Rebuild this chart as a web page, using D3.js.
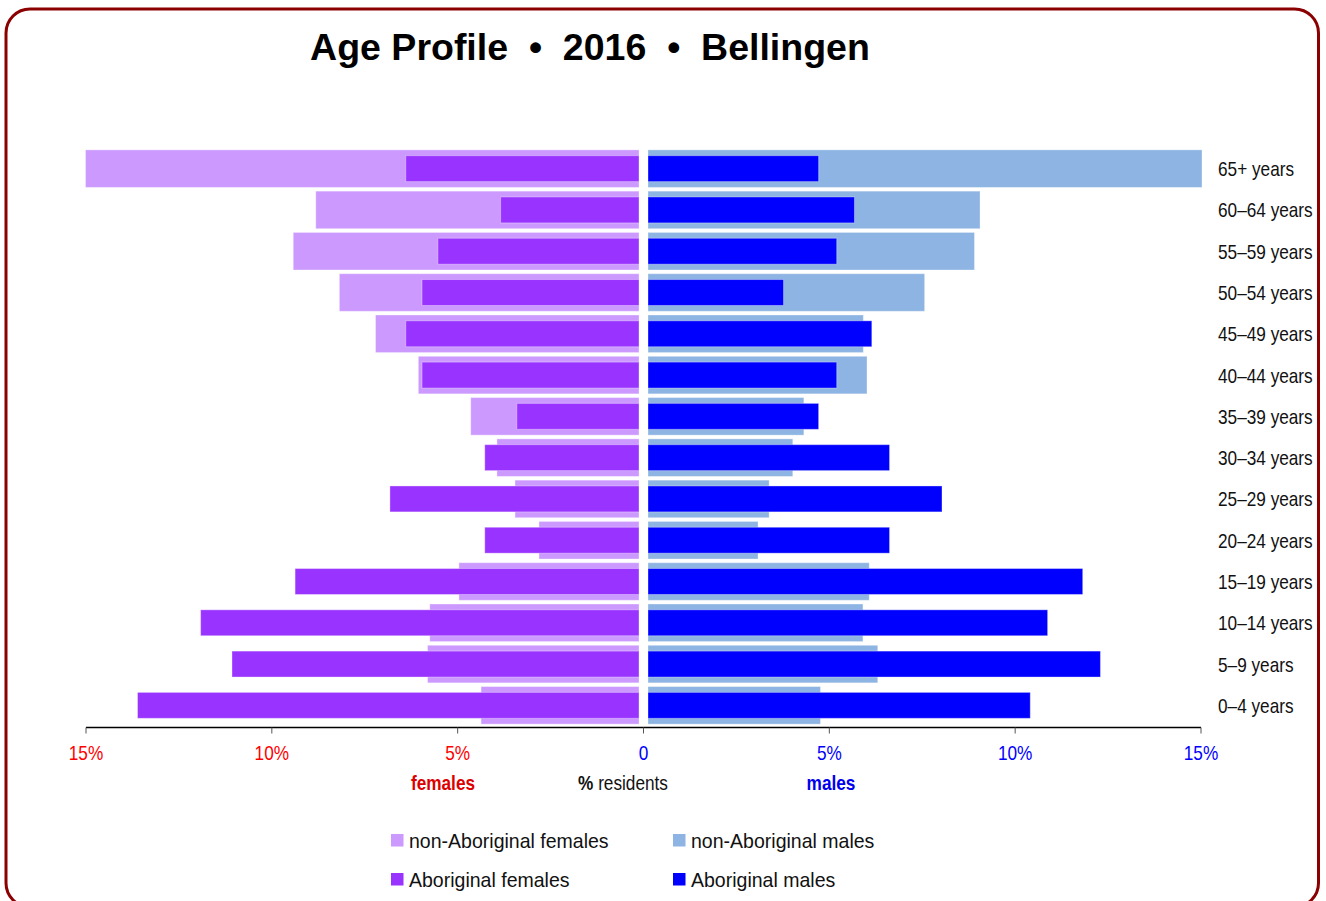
<!DOCTYPE html>
<html>
<head>
<meta charset="utf-8">
<script src="https://cdn.jsdelivr.net/npm/d3@7"></script>
<style>
  html, body { margin: 0; padding: 0; background: #fff; }
  svg { display: block; }
  text { font-family: "Liberation Sans", Arial, sans-serif; }
</style>
</head>
<body>
<script>
var width = 1326,
    height = 901;

// age groups, top to bottom
var ages = ["65+ years", "60\u201364 years", "55\u201359 years", "50\u201354 years", "45\u201349 years",
    "40\u201344 years", "35\u201339 years", "30\u201334 years", "25\u201329 years", "20\u201324 years",
    "15\u201319 years", "10\u201314 years", "5\u20139 years", "0\u20134 years"];

// % of residents in each group (65+ runs off the 15% edge)
var nonAborigFemales = [15.0, 8.76, 9.37, 8.12, 7.14, 5.98, 4.56, 3.85, 3.36, 2.71, 4.88, 5.67, 5.73, 4.28];
var aborigFemales    = [6.32, 3.75, 5.45, 5.88, 6.32, 5.88, 3.31, 4.18, 6.75, 4.18, 9.32, 11.88, 11.03, 13.59];
var nonAborigMales   = [15.0, 8.99, 8.84, 7.49, 5.83, 5.93, 4.22, 3.92, 3.28, 2.98, 5.99, 5.82, 6.22, 4.67];
var aborigMales      = [4.62, 5.59, 5.11, 3.67, 6.06, 5.11, 4.62, 6.54, 7.96, 6.54, 11.77, 10.82, 12.25, 10.35];

var femaleTicks = [15, 10, 5];
var maleTicks = [0, 5, 10, 15];

var colors = {
    nonAborigFemales: "#cc99ff",
    aborigFemales: "#9933ff",
    nonAborigMales: "#8db4e2",
    aborigMales: "#0000ff"
};

// no narrow font installed, so squeeze the regular one
var NARROW = 0.82;

var svg = d3.select("body")
    .append("svg")
    .attr("width", width)
    .attr("height", height);

function narrowText(parent, x, y, anchor, size) {
    return parent.append("text")
        .attr("transform", "translate(" + x + "," + y + ") scale(" + NARROW + ",1)")
        .attr("text-anchor", anchor)
        .style("font-size", size + "px");
}

// frame
svg.append("rect")
    .attr("x", 6)
    .attr("y", 9)
    .attr("width", 1312.5)
    .attr("height", 898)
    .attr("rx", 24)
    .attr("ry", 24)
    .style("fill", "none")
    .style("stroke", "#8b0000")
    .style("stroke-width", 3);

svg.append("text")
    .attr("x", 590)
    .attr("y", 59.5)
    .attr("text-anchor", "middle")
    .style("font-weight", "bold")
    .style("font-size", "37.5px")
    .style("white-space", "pre")
    .text("Age Profile  \u2022  2016  \u2022  Bellingen");

var y = d3.scaleBand()
    .domain(ages)
    .range([148, 726])
    .paddingInner(0.09)
    .paddingOuter(0.045);

// bars leave a small gap either side of zero
var xF = d3.scaleLinear().domain([0, 15]).range([639, 85.5]).clamp(true);
var xM = d3.scaleLinear().domain([0, 15]).range([648, 1202]).clamp(true);
// axis runs through the middle of the gap
var xAxisF = d3.scaleLinear().domain([0, 15]).range([643.5, 86]);
var xAxisM = d3.scaleLinear().domain([0, 15]).range([643.5, 1201]);

var innerH = y.bandwidth() * 0.69;

function drawSide(values, scale, color, thick) {
    var h = thick ? y.bandwidth() : innerH;
    svg.append("g")
        .selectAll("rect")
        .data(values)
        .enter().append("rect")
        .attr("x", function (d) { return Math.min(scale(0), scale(d)); })
        .attr("width", function (d) { return Math.abs(scale(d) - scale(0)); })
        .attr("y", function (d, i) { return y(ages[i]) + (y.bandwidth() - h) / 2; })
        .attr("height", h)
        .style("fill", color)
        .style("stroke", "rgba(255,255,255,0.35)")
        .style("stroke-width", 1);
}

drawSide(nonAborigFemales, xF, colors.nonAborigFemales, true);
drawSide(aborigFemales, xF, colors.aborigFemales, false);
drawSide(nonAborigMales, xM, colors.nonAborigMales, true);
drawSide(aborigMales, xM, colors.aborigMales, false);

// age labels
var ageG = svg.append("g");
ages.forEach(function (a) {
    narrowText(ageG, 1218, y(a) + y.bandwidth() / 2 + 7.5, "start", 21)
        .style("fill", "#111")
        .text(a);
});

// horizontal axis
var axisY = 727.5;
var axis = svg.append("g").attr("class", "axis");

axis.append("line")
    .attr("x1", xAxisF(15))
    .attr("x2", xAxisM(15))
    .attr("y1", axisY)
    .attr("y2", axisY)
    .style("stroke", "#000")
    .style("stroke-width", 1.5);

function drawTicks(ticks, scale, color, fmt) {
    ticks.forEach(function (d) {
        var x = scale(d);
        axis.append("line")
            .attr("x1", x).attr("x2", x)
            .attr("y1", axisY).attr("y2", axisY + 6)
            .style("stroke", "#555")
            .style("stroke-width", 1);
        narrowText(axis, x, axisY + 32.5, "middle", 21)
            .style("fill", color)
            .text(fmt(d));
    });
}

drawTicks(femaleTicks, xAxisF, "#ff0000", function (d) { return d + "%"; });
drawTicks(maleTicks, xAxisM, "#0000ff", function (d) { return d === 0 ? "0" : d + "%"; });

narrowText(svg, 443, 790, "middle", 21)
    .style("font-weight", "bold")
    .style("fill", "#dd0000")
    .text("females");

narrowText(svg, 831, 790, "middle", 21)
    .style("font-weight", "bold")
    .style("fill", "#0000ee")
    .text("males");

var res = narrowText(svg, 623, 790, "middle", 21)
    .style("fill", "#111");
res.append("tspan").style("font-weight", "bold").text("%");
res.append("tspan").text(" residents");

// legend
var legendItems = [
    { label: "non-Aboriginal females", color: colors.nonAborigFemales, col: 0, row: 0 },
    { label: "non-Aboriginal males", color: colors.nonAborigMales, col: 1, row: 0 },
    { label: "Aboriginal females", color: colors.aborigFemales, col: 0, row: 1 },
    { label: "Aboriginal males", color: colors.aborigMales, col: 1, row: 1 }
];

var legend = svg.append("g")
    .selectAll("g")
    .data(legendItems)
    .enter().append("g")
    .attr("transform", function (d) {
        return "translate(" + (391 + d.col * 282) + "," + (840 + d.row * 39) + ")";
    });

legend.append("rect")
    .attr("x", 0)
    .attr("y", -6)
    .attr("width", 12.5)
    .attr("height", 12.5)
    .style("fill", function (d) { return d.color; });

legend.append("text")
    .attr("transform", "translate(18,7.5) scale(0.93,1)")
    .style("font-size", "21px")
    .style("fill", "#111")
    .text(function (d) { return d.label; });
</script>
</body>
</html>
